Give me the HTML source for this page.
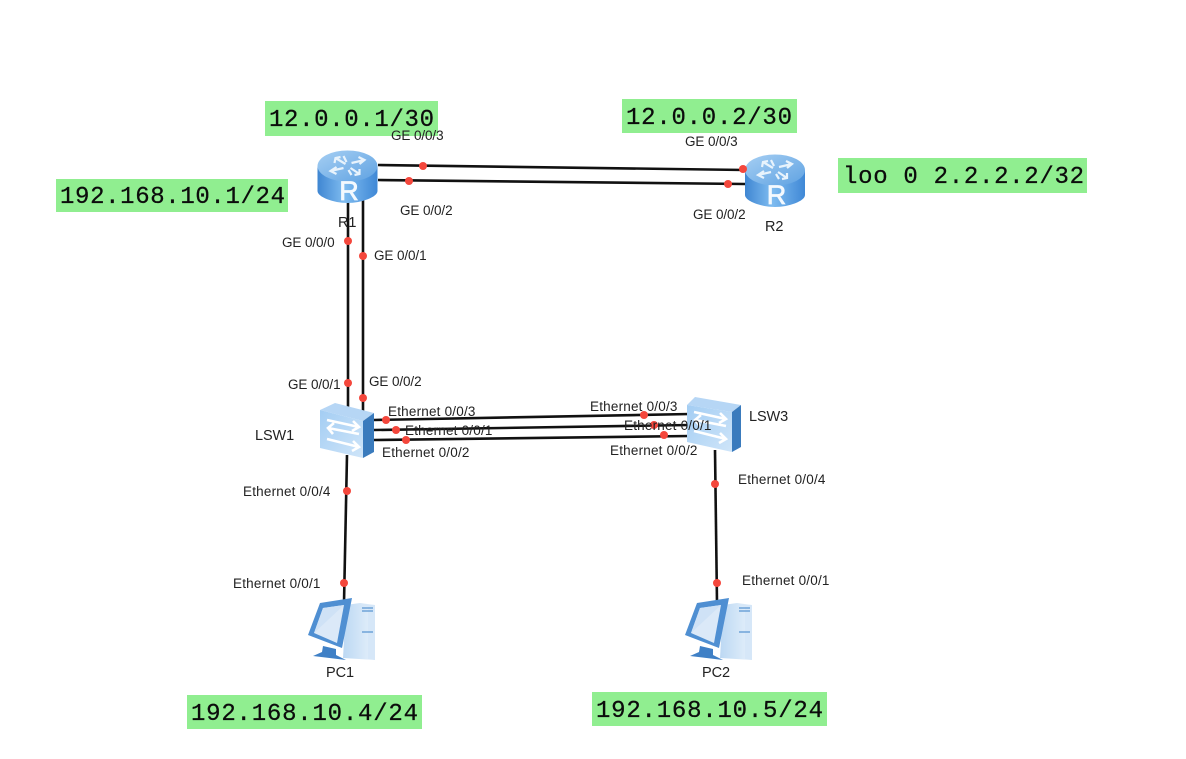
<!DOCTYPE html>
<html><head><meta charset="utf-8"><style>
html,body{margin:0;padding:0;background:#fff}
svg{display:block}
.m{font-family:"Liberation Mono",monospace;font-size:24px;fill:#0c0c0c;stroke:#0c0c0c;stroke-width:.25px}
.s{font-family:"Liberation Sans",sans-serif;font-size:13.5px;fill:#222;letter-spacing:-.1px}
.e{letter-spacing:.2px}
.n{font-size:14.5px}
.d{fill:#f4473c}
.l{stroke:#111;stroke-width:2.6;fill:none}
</style></head><body>
<svg width="1186" height="759" viewBox="0 0 1186 759" xmlns="http://www.w3.org/2000/svg">
<defs>
<linearGradient id="rb" x1="0" x2="1" y1="0" y2="0"><stop offset="0" stop-color="#3f86d2"/><stop offset=".45" stop-color="#7fbcf0"/><stop offset="1" stop-color="#3f88d6"/></linearGradient>
<linearGradient id="rt" x1="0" x2="1" y1="0" y2="1"><stop offset="0" stop-color="#a6cff3"/><stop offset="1" stop-color="#5fa2e2"/></linearGradient>
<linearGradient id="sf" x1="0" x2="1" y1="0" y2="1"><stop offset="0" stop-color="#a3cdf3"/><stop offset="1" stop-color="#cfe5f9"/></linearGradient>
<linearGradient id="tw" x1="0" x2="1" y1="0" y2="0"><stop offset="0" stop-color="#bcd8f3"/><stop offset="1" stop-color="#e6f1fb"/></linearGradient>
<g id="router">
<path d="M-30,0 V25 C-30,31 -14,37 0,37 C14,37 30,31 30,25 V0 Z" fill="url(#rb)"/>
<ellipse cx="0" cy="0" rx="30" ry="15.5" fill="url(#rt)"/>
<g stroke="#e8f3fc" stroke-width="2.2" fill="none">
<path d="M-2,-2 L-12,-8 M-13,-3 L-12,-8 L-7,-9"/>
<path d="M4,-3 L17,-6 M11,-9 L17,-6 L12,-2"/>
<path d="M-4,2 L-17,5 M-11,1 L-17,5 L-11,8"/>
<path d="M3,2 L12,8 M12,3 L12,8 L7,9"/>
<path d="M-1,-4 L-4,-10 M1,4 L4,9"/>
</g>
<text x="1.5" y="34" text-anchor="middle" font-family="Liberation Sans,sans-serif" font-size="27" stroke="#f4f9fe" stroke-width=".7" fill="#f4f9fe">R</text>
</g>
<g id="arrows" stroke="#fff" stroke-width="2.6" fill="none">
<path d="M7,10 L39,17 M33,11 L39,17 L32,21"/>
<path d="M39,24 L8,18 M14,13 L8,18 L13,24"/>
<path d="M7,29 L39,37 M33,31 L39,37 L32,41"/>
</g>
<g id="pc">
<path d="M38,6 L52,4 L67,6 L67,61 L35,59 Z" fill="url(#tw)"/>
<path d="M52,5 L67,6 L67,61 L60,60 L60,8 Z" fill="#d6e7f8"/>
<path d="M54,9 H65 M54,12 H65 M54,33 H65" stroke="#6fa3d8" stroke-width="1.6"/>
<path d="M0,36 L12,4 L44,-1 L34,49 Z" fill="#4f8fd2"/>
<path d="M6,34 L15,9 L36,6 L29,44 Z" fill="#dbe9f8"/>
<path d="M6,34 L15,9 L36,6 Z" fill="#cfe2f6"/>
<path d="M15,47 L28,50 L28,56 L38,61 L5,57 L14,53 Z" fill="#3f80c6"/>
</g>
</defs>

<rect x="265" y="101" width="173" height="35" fill="#90ee90"/>
<rect x="622" y="99" width="175" height="34" fill="#90ee90"/>
<rect x="56" y="179" width="232" height="33" fill="#90ee90"/>
<rect x="838" y="158" width="249" height="35" fill="#90ee90"/>
<rect x="187" y="695" width="235" height="34" fill="#90ee90"/>
<rect x="592" y="692" width="235" height="34" fill="#90ee90"/>

<text class="m" x="269" y="126" textLength="165">12.0.0.1/30</text>
<text class="m" x="626" y="124" textLength="166">12.0.0.2/30</text>
<text class="m" x="60" y="203" textLength="225">192.168.10.1/24</text>
<text class="m" x="843" y="183" textLength="241">loo 0 2.2.2.2/32</text>
<text class="m" x="191" y="720" textLength="227">192.168.10.4/24</text>
<text class="m" x="596" y="717" textLength="227">192.168.10.5/24</text>

<path class="l" d="M378,165 L745,170"/>
<path class="l" d="M378,180 L745,184"/>
<path class="l" d="M348,200 V410"/>
<path class="l" d="M363,200 V420"/>
<path class="l" d="M374,420 L690,414"/>
<path class="l" d="M374,430 L690,425"/>
<path class="l" d="M374,440 L690,436"/>
<path class="l" d="M347,455 L344,603"/>
<path class="l" d="M715,450 L717,603"/>

<use href="#router" x="347.5" y="166"/>
<use href="#router" x="775" y="170"/>

<path d="M320,410 L335,403 L374,413 L363,421 Z" fill="#b6d6f5"/>
<path d="M320,410 L363,421 L363,458 L320,448 Z" fill="url(#sf)"/>
<path d="M363,421 L374,413 L374,452 L363,458 Z" fill="#3a7bbd"/>
<use href="#arrows" x="320" y="410"/>

<path d="M687,405 L695,397 L741,405 L732,412 Z" fill="#b6d6f5"/>
<path d="M687,405 L732,412 L732,452 L687,442 Z" fill="url(#sf)"/>
<path d="M732,412 L741,405 L741,447 L732,452 Z" fill="#3a7bbd"/>
<use href="#arrows" x="687" y="402"/>

<use href="#pc" x="308" y="599"/>
<use href="#pc" x="685" y="599"/>

<g class="d">
<circle cx="423" cy="166" r="4"/><circle cx="409" cy="181" r="4"/>
<circle cx="743" cy="169" r="4"/><circle cx="728" cy="184" r="4"/>
<circle cx="348" cy="241" r="4"/><circle cx="363" cy="256" r="4"/>
<circle cx="348" cy="383" r="4"/><circle cx="363" cy="398" r="4"/>
<circle cx="386" cy="420" r="4"/><circle cx="396" cy="430" r="4"/><circle cx="406" cy="440" r="4"/>
<circle cx="644" cy="415" r="4"/><circle cx="654" cy="425" r="4"/><circle cx="664" cy="435" r="4"/>
<circle cx="347" cy="491" r="4"/><circle cx="344" cy="583" r="4"/>
<circle cx="715" cy="484" r="4"/><circle cx="717" cy="583" r="4"/>
</g>

<g class="s">
<text x="391" y="140">GE 0/0/3</text>
<text x="400" y="215">GE 0/0/2</text>
<text x="685" y="146">GE 0/0/3</text>
<text x="693" y="219">GE 0/0/2</text>
<text class="n" x="338" y="227">R1</text>
<text class="n" x="765" y="231">R2</text>
<text x="282" y="247">GE 0/0/0</text>
<text x="374" y="260">GE 0/0/1</text>
<text x="288" y="389">GE 0/0/1</text>
<text x="369" y="386">GE 0/0/2</text>
<text class="n" x="255" y="440">LSW1</text>
<text class="n" x="749" y="421">LSW3</text>
<text class="e" x="388" y="416">Ethernet 0/0/3</text>
<text class="e" x="405" y="435">Ethernet 0/0/1</text>
<text class="e" x="382" y="457">Ethernet 0/0/2</text>
<text class="e" x="590" y="411">Ethernet 0/0/3</text>
<text class="e" x="624" y="430">Ethernet 0/0/1</text>
<text class="e" x="610" y="455">Ethernet 0/0/2</text>
<text class="e" x="243" y="496">Ethernet 0/0/4</text>
<text class="e" x="738" y="484">Ethernet 0/0/4</text>
<text class="e" x="233" y="588">Ethernet 0/0/1</text>
<text class="e" x="742" y="585">Ethernet 0/0/1</text>
<text class="n" x="326" y="677">PC1</text>
<text class="n" x="702" y="677">PC2</text>
</g>
</svg>
</body></html>
